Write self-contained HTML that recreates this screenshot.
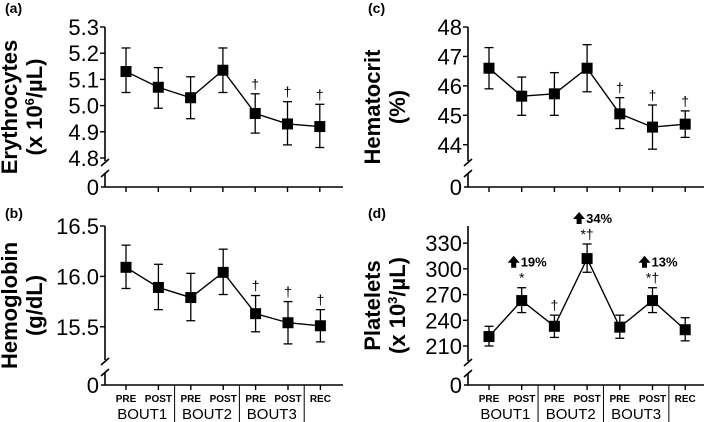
<!DOCTYPE html>
<html><head><meta charset="utf-8"><style>
body{margin:0;background:#fff;}
svg{display:block;font-family:"Liberation Sans",Arial,sans-serif;}
</style></head><body>
<svg id="chart" width="709" height="422" viewBox="0 0 709 422" xmlns="http://www.w3.org/2000/svg"></svg>
<script>
const categories=["PRE","POST","PRE","POST","PRE","POST","REC"];
const bouts=["BOUT1","BOUT2","BOUT3"];
const eryMean=[5.13,5.07,5.03,5.135,4.97,4.93,4.92];
const eryLo=[5.05,4.99,4.95,5.05,4.895,4.85,4.84];
const eryHi=[5.22,5.145,5.11,5.22,5.045,5.015,5.005];
const eryTicks=[4.8,4.9,5.0,5.1,5.2,5.3];
const eryMarks=["","","","","†","†","†"];
const hbMean=[16.09,15.89,15.79,16.04,15.63,15.54,15.51];
const hbLo=[15.88,15.67,15.56,15.82,15.45,15.33,15.35];
const hbHi=[16.31,16.12,16.03,16.27,15.81,15.75,15.67];
const hbTicks=[15.5,16.0,16.5];
const hbMarks=["","","","","†","†","†"];
const hctMean=[46.6,45.65,45.73,46.6,45.05,44.6,44.7];
const hctLo=[45.9,45.0,45.0,45.8,44.55,43.85,44.25];
const hctHi=[47.3,46.3,46.45,47.4,45.6,45.35,45.15];
const hctTicks=[44,45,46,47,48];
const hctMarks=["","","","","†","†","†"];
const pltMean=[221,263,233,312,232,263,229];
const pltLo=[210,249,220,296,219,249,216];
const pltHi=[233,278,246,329,246,278,243];
const pltTicks=[210,240,270,300,330];
const pltMarks=["","*","†","*†","","*†",""];
const pltPct=["","19%","","34%","","13%",""];

const svg=document.getElementById('chart');
const NS="http://www.w3.org/2000/svg";
function mk(tag,attrs,parent){const e=document.createElementNS(NS,tag);for(const k in attrs)e.setAttribute(k,attrs[k]);(parent||svg).appendChild(e);return e;}

function panel(o){
  const g=mk('g',{});
  
  
  const y=v=>o.yTop+(o.tMax-v)/(o.tMax-o.tMin)*(o.yBot-o.yTop);
  const x=i=>o.x0+i*o.dx;
  const pl=mk('text',{x:o.ax-100,y:o.letterY,'font-size':14,'font-weight':'bold'},g);pl.textContent=o.letter;
  
  
  mk('line',{x1:o.ax,y1:o.yTop,x2:o.ax,y2:o.yBot+3,stroke:'#000','stroke-width':1.6},g);
  mk('line',{x1:o.ax-4,y1:o.yBot+8,x2:o.ax+4,y2:o.yBot+1,stroke:'#000','stroke-width':1.6},g);
  mk('line',{x1:o.ax-4,y1:o.yBot+19,x2:o.ax+4,y2:o.yBot+12,stroke:'#000','stroke-width':1.6},g);
  mk('line',{x1:o.ax,y1:o.yBot+16,x2:o.ax,y2:o.y0,stroke:'#000','stroke-width':1.6},g);
  mk('line',{x1:o.ax-4,y1:o.y0,x2:o.axEnd,y2:o.y0,stroke:'#000','stroke-width':1.6},g);
  const z=mk('text',{x:o.ax-6,y:o.y0+8,'font-size':22,'text-anchor':'end'},g);z.textContent='0';
  o.ticks.forEach(t=>{
    mk('line',{x1:o.ax-5,y1:y(t),x2:o.ax,y2:y(t),stroke:'#000','stroke-width':1.4},g);
    const tt=mk('text',{x:o.ax-6,y:y(t)+8,'font-size':22,'text-anchor':'end'},g);
    tt.textContent=o.fmt(t);
    
    
  });
  const tg=mk('text',{transform:`translate(${o.ax-88},${(o.yTop+o.y0)/2}) rotate(-90)`,'font-size':22,'font-weight':'bold','text-anchor':'middle'},g);
  
  
  const t1=mk('tspan',{x:0,dy:0},tg);t1.textContent=o.title1;
  const t2=mk('tspan',{x:0,dy:25},tg);t2.innerHTML=o.title2;
  categories.forEach((c,i)=>{mk('line',{x1:x(i),y1:o.y0,x2:x(i),y2:o.y0+5,stroke:'#000','stroke-width':1.4},g);});
  if(o.xlabels){
    categories.forEach((c,i)=>{const t=mk('text',{x:x(i),y:o.y0+17,'font-size':10,'font-weight':'bold','text-anchor':'middle'},g);t.textContent=c;
      
      });
    bouts.forEach((b,k)=>{const t=mk('text',{x:(x(2*k)+x(2*k+1))/2,y:o.y0+34,'font-size':15,'text-anchor':'middle'},g);t.textContent=b;
      
      });
    [1.5,3.5,5.5].forEach(p=>mk('line',{x1:x(p),y1:o.y0,x2:x(p),y2:422,stroke:'#000','stroke-width':1},g));
  }
  const pts=o.mean.map((m,i)=>x(i)+','+y(m)).join(' ');
  const pl2=mk('polyline',{points:pts,fill:'none',stroke:'#000','stroke-width':1.4},g);
  
  
  o.mean.forEach((m,i)=>{
    const xi=x(i);
    mk('line',{x1:xi,y1:y(o.lo[i]),x2:xi,y2:y(o.hi[i]),stroke:'#000','stroke-width':1.3},g);
    mk('line',{x1:xi-4.5,y1:y(o.lo[i]),x2:xi+4.5,y2:y(o.lo[i]),stroke:'#000','stroke-width':1.3},g);
    mk('line',{x1:xi-4.5,y1:y(o.hi[i]),x2:xi+4.5,y2:y(o.hi[i]),stroke:'#000','stroke-width':1.3},g);
    const r=mk('rect',{x:xi-5.5,y:y(m)-5.5,width:11,height:11,fill:'#000'},g);
    
    
    if(o.marks[i]){const t=mk('text',{x:xi,y:y(o.hi[i])-5,'font-size':14,'text-anchor':'middle'},g);t.textContent=o.marks[i];}
    if(o.pct&&o.pct[i]){
      const ar=mk('path',{d:`M${xi-14},${y(o.hi[i])-25} l6,-7 l6,7 h-3.5 v5 h-5 v-5 z`,fill:'#000'},g);
      
      
      const p=mk('text',{x:xi-1,y:y(o.hi[i])-21,'font-size':13,'font-weight':'bold'},g);p.textContent=o.pct[i];
      
      }
  });
}
panel({name:'erythrocytes-panel',letter:'(a)',letterY:13,ax:105,axEnd:343,yTop:27,yBot:158,y0:187,tMin:4.8,tMax:5.3,ticks:eryTicks,fmt:v=>v.toFixed(1),x0:126,dx:32.3,mean:eryMean,lo:eryLo,hi:eryHi,marks:eryMarks,title1:'Erythrocytes',title2:'(x 10<tspan font-size="13" dy="-8">6</tspan><tspan dy="8">/µL)</tspan>'});
panel({name:'hemoglobin-panel',letter:'(b)',letterY:218,ax:105,axEnd:343,yTop:226,yBot:357,y0:385,tMin:15.2,tMax:16.5,ticks:hbTicks,fmt:v=>v.toFixed(1),x0:126,dx:32.4,mean:hbMean,lo:hbLo,hi:hbHi,marks:hbMarks,title1:'Hemoglobin',title2:'(g/dL)',xlabels:true});
panel({name:'hematocrit-panel',letter:'(c)',letterY:13,ax:468,axEnd:704,yTop:27,yBot:158,y0:187,tMin:43.55,tMax:48,ticks:hctTicks,fmt:v=>String(v),x0:489,dx:32.7,mean:hctMean,lo:hctLo,hi:hctHi,marks:hctMarks,title1:'Hematocrit',title2:'(%)'});
panel({name:'platelets-panel',letter:'(d)',letterY:218,ax:468,axEnd:704,yTop:226,yBot:358,y0:385,tMin:196,tMax:350,ticks:pltTicks,fmt:v=>String(v),x0:489,dx:32.7,mean:pltMean,lo:pltLo,hi:pltHi,marks:pltMarks,pct:pltPct,title1:'Platelets',title2:'(x 10<tspan font-size="13" dy="-8">3</tspan><tspan dy="8">/µL)</tspan>',xlabels:true});
</script>
</body></html>
